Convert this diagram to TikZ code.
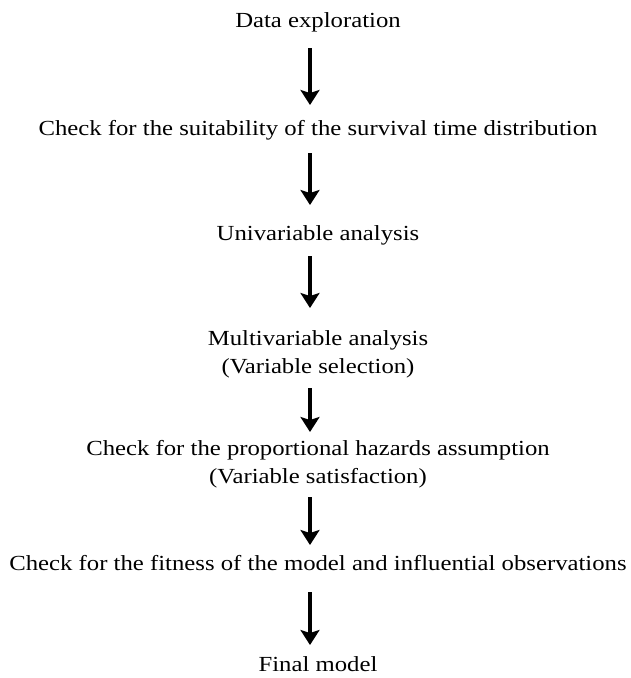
\documentclass[tikz,border=0pt]{standalone}
\usepackage{fontspec}
\setmainfont[FakeStretch=1.15]{Liberation Serif}
\usetikzlibrary{arrows.meta}
\begin{document}
\begin{tikzpicture}[x=1pt,y=1pt,
  lbl/.style={font=\fontsize{21.5}{28}\selectfont, align=center, inner sep=0pt},
  arr/.style={line width=3.4pt, -{Stealth[length=15pt,width=19pt,inset=3pt]}}]
\useasboundingbox (0,0) rectangle (630,-678);
\node[lbl] (a) at (318,-22) {Data exploration};
\node[lbl] (b) at (318,-130) {Check for the suitability of the survival time distribution};
\node[lbl] (c) at (318,-235) {Univariable analysis};
\node[lbl] (d) at (318,-354) {Multivariable analysis\\(Variable selection)};
\node[lbl] (e) at (318,-464) {Check for the proportional hazards assumption\\(Variable satisfaction)};
\node[lbl] (f) at (318,-563) {Check for the fitness of the model and influential observations};
\node[lbl] (g) at (318,-664) {Final model};
\coordinate (a1) at (310,-48); \coordinate (a2) at (310,-105);
\coordinate (b1) at (310,-153); \coordinate (b2) at (310,-205);
\coordinate (c1) at (310,-256); \coordinate (c2) at (310,-308);
\coordinate (d1) at (310,-388); \coordinate (d2) at (310,-432);
\coordinate (e1) at (310,-497); \coordinate (e2) at (310,-545);
\coordinate (f1) at (310,-592); \coordinate (f2) at (310,-645);
\draw[arr] (a1) -- (a2);
\draw[arr] (b1) -- (b2);
\draw[arr] (c1) -- (c2);
\draw[arr] (d1) -- (d2);
\draw[arr] (e1) -- (e2);
\draw[arr] (f1) -- (f2);
\end{tikzpicture}
\end{document}
